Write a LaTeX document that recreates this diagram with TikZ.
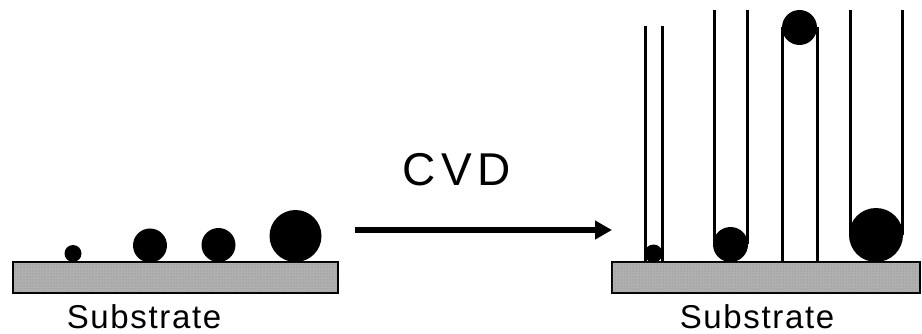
\documentclass[tikz,border=0pt]{standalone}
\usepackage{fontspec}
\setmainfont{Liberation Sans}
\newfontfamily\sublabelfont[LetterSpace=5]{Liberation Sans}
\newfontfamily\processfont[LetterSpace=12]{Liberation Sans}
\usetikzlibrary{arrows.meta,patterns}
\definecolor{substrategray}{RGB}{176,176,176}
\definecolor{substratedots}{RGB}{130,130,130}
\begin{document}
\begin{tikzpicture}[x=1pt,y=-1pt,
  substrate/.style={draw=black, line width=1.6pt, fill=substrategray,
    postaction={pattern=dots, pattern color=substratedots}},
  tube/.style={draw=black, line width=3pt},
  catalyst/.style={fill=black},
  sublabel/.style={anchor=base, inner sep=0pt, font=\sublabelfont\fontsize{33}{38}\selectfont},
  processlabel/.style={anchor=base, inner sep=0pt, font=\processfont\fontsize{46}{52}\selectfont},
  processarrow/.style={line width=5.5pt, -{Triangle[length=17pt,width=18pt]}}]
\useasboundingbox (0,0) rectangle (922,334);

% before growth: catalyst particles on the substrate
\draw[substrate] (13,262) rectangle (338,293);
\fill[catalyst] (73,253.5) circle (8.5);
\fill[catalyst] (150,245.5) circle (17);
\fill[catalyst] (218.5,245) circle (17);
\fill[catalyst] (295.5,236) circle (26);
\node[sublabel] (subleft) at (144,328) {Substrate};

% process step
\coordinate (arrowfrom) at (355,230);
\coordinate (arrowto) at (612,230);
\draw[processarrow] (arrowfrom) -- (arrowto);
\node[processlabel] (cvd) at (457,186) {CVD};

% after growth: tubes on the substrate
\draw[substrate] (612,262) rectangle (920,293);
% thin tube, small particle at the base
\draw[tube] (645,26) -- (645,262);
\draw[tube] (662,26) -- (662,262);
\fill[catalyst] (653.5,253.5) circle (9);
% tube with particle at the base
\draw[tube] (714,10) -- (714,244.5);
\draw[tube] (747,10) -- (747,244.5);
\fill[catalyst] (730.5,244.5) circle (17.5);
% tube with particle at the tip
\draw[tube] (782,27.5) -- (782,262);
\draw[tube] (817,27.5) -- (817,262);
\fill[catalyst] (799.5,27.5) circle (17.5);
% wide tube, large particle at the base
\draw[tube] (850,10) -- (850,235);
\draw[tube] (902,10) -- (902,235);
\fill[catalyst] (876,235) circle (27);
\node[sublabel] (subright) at (757,328) {Substrate};
\end{tikzpicture}
\end{document}
